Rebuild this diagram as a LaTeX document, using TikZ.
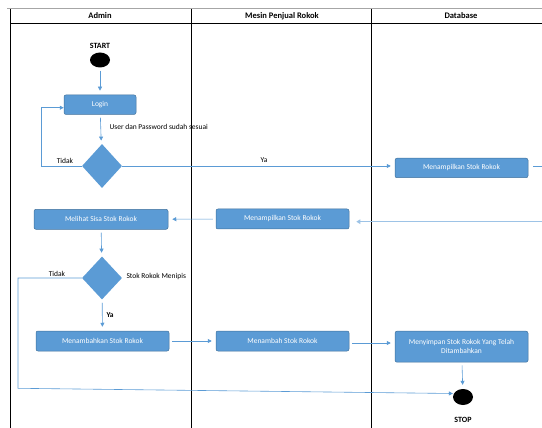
\documentclass[tikz,border=0pt]{standalone}
\usepackage{fontspec}
\setmainfont{Carlito}
\usepackage{tikz}
\usetikzlibrary{calc}
\usetikzlibrary{shapes.geometric,positioning}
\usetikzlibrary{arrows.meta}
\definecolor{actblue}{HTML}{5B9BD5}
\definecolor{actedge}{HTML}{41719C}
\definecolor{paleblue}{HTML}{9DC3E6}
\tikzset{
    actbox/.style={
        draw=actedge,
        fill=actblue,
        line width=0.5pt,
        rounded corners=2pt,
        text=white,
        font=\fontsize{7.5}{9}\selectfont,
        align=center,
        minimum width=133pt,
        minimum height=20pt,
        inner sep=1pt
    },
    decbox/.style={
        diamond,
        fill=actblue,
        minimum width=40pt,
        minimum height=44pt,
        inner sep=0pt
    },
    % flow arrows between the activities
    flowarrow/.style={
        line width=0.6pt,
        actblue,
        -{Triangle[length=4pt, width=4pt]},
        shorten >=4pt,
        shorten <=3pt
    },
    loopline/.style={
        line width=0.6pt,
        actblue,
        -{Triangle[length=4pt, width=4pt]}
    },
    dotnode/.style={
        ellipse,
        fill=black,
        minimum width=20pt,
        minimum height=15pt,
        inner sep=0pt
    },
    lanehead/.style={font=\fontsize{8.5}{10}\selectfont\bfseries},
    small/.style={font=\fontsize{7.5}{9}\selectfont}
}

\begin{document}
\begin{tikzpicture}[x=1pt, y=-1pt]
	\useasboundingbox (0,0) rectangle (542,428);

	% swimlanes
	\draw[line width=1.5pt, gray!70] (7,8.5) --(542,8.5);
	\draw[line width=0.6pt] (10.4,9) --(10.4,428);
	\draw[line width=0.6pt] (190.8,9) --(190.8,428);
	\draw[line width=0.6pt] (371.6,9) --(371.6,428);
	\draw[line width=0.6pt] (10.4,23.3) --(542,23.3);
	\node [lanehead] (hadmin) at (100,16) {Admin};
	\node [lanehead] (hmesin) at (282,16) {Mesin Penjual Rokok};
	\node [lanehead] (hdb) at (461,16) {Database};

	\node [dotnode] (start) at (100,60) {};
	\node [font=\fontsize{8}{10}\selectfont\bfseries] (starttxt) at (100,46) {START};
	\node [actbox, minimum width=72pt, minimum height=19.5pt] (login) at (100,104.7) {Login};
	\node [decbox] (cek) at (102,166) {};
	\node [actbox, minimum height=19.5pt] (tampildb) at (461.5,168) {Menampilkan Stok Rokok};
	\node [actbox] (tampilmesin) at (282.5,219) {Menampilkan Stok Rokok};
	\node [actbox, minimum width=134pt] (melihat) at (101,219.3) {Melihat Sisa Stok Rokok};
	\node [decbox, minimum height=43pt] (menipis) at (102,278) {};
	\node [actbox] (tambahadmin) at (102.5,341) {Menambahkan Stok Rokok};
	\node [actbox] (tambahmesin) at (282.5,341) {Menambah Stok Rokok};
	\node [actbox, minimum height=31pt] (simpan) at (461.5,346.7) {Menyimpan Stok Rokok Yang Telah\\Ditambahkan};
	\node [dotnode, minimum height=16pt] (stop) at (463,397) {};
	\node [font=\fontsize{8}{10}\selectfont\bfseries] (stoptxt) at (463,420) {STOP};

	\coordinate (loopa) at (41,107.7);
	\coordinate (loopb) at (18,388.3);
	\coordinate (outa) at (542,166);
	\coordinate (outb) at (542,221.7);

	\draw[flowarrow](start)to(login);
	\draw[flowarrow](login)to(cek);
	\node [small, anchor=west] (lbluser) at (106,127) {User dan Password sudah sesuai};

	\draw[loopline](cek.west) -| (loopa) -- (login.west |- loopa);
	\node [small] (lbltidaka) at (65,160.7) {Tidak};

	\draw[flowarrow, shorten <=0pt](cek.east)to(cek.east -| tampildb.west);
	\node [small] (lblyaa) at (264,160) {Ya};

	\draw[line width=0.6pt, actblue, shorten <=5pt](tampildb.east |- outa)to(outa);
	\draw[line width=1.2pt, paleblue, -{Triangle[length=4pt, width=4.5pt]}, shorten >=7pt](outb)to(tampilmesin.east |- outb);

	\draw[flowarrow](tampilmesin)to(melihat);
	\draw[flowarrow](melihat)to(menipis);

	\draw[loopline](menipis.west) -| (loopb) -- ($(stop.west)+(0,-3.5)$);
	\node [small] (lbltidakb) at (57,274.3) {Tidak};
	\node [small, anchor=west] (lblmenipis) at (123,277) {Stok Rokok Menipis};

	\draw[flowarrow](menipis)to(tambahadmin);
	\node [small, font=\fontsize{7.5}{9}\selectfont\bfseries, anchor=west] (lblyab) at (103,315) {Ya};

	\draw[flowarrow](tambahadmin)to(tambahmesin);
	\draw[flowarrow]([yshift=-2pt]tambahmesin.east)to([yshift=-2pt]tambahmesin.east -| simpan.west);
	\draw[flowarrow](simpan)to(stop);
\end{tikzpicture}
\end{document}
